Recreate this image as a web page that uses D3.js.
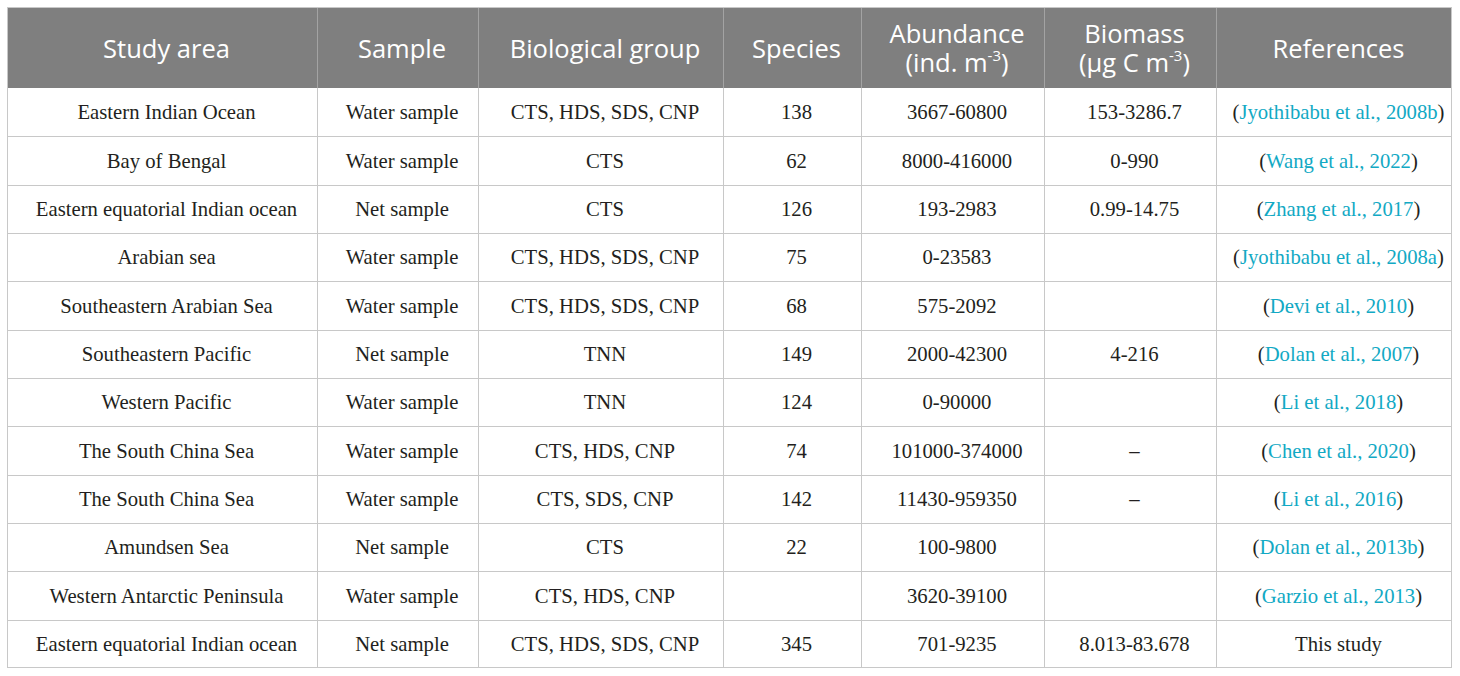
<!DOCTYPE html>
<html>
<head>
<meta charset="utf-8">
<script src="https://cdn.jsdelivr.net/npm/d3@7"></script>
<style>
  html, body { margin: 0; padding: 0; background: #fff; }
</style>
</head>
<body>
<div id="container"></div>
<script>
// table contents
let studyAreas = ['Eastern Indian Ocean', 'Bay of Bengal', 'Eastern equatorial Indian ocean', 'Arabian sea',
  'Southeastern Arabian Sea', 'Southeastern Pacific', 'Western Pacific', 'The South China Sea',
  'The South China Sea', 'Amundsen Sea', 'Western Antarctic Peninsula', 'Eastern equatorial Indian ocean']
let samples = ['Water sample', 'Water sample', 'Net sample', 'Water sample', 'Water sample', 'Net sample',
  'Water sample', 'Water sample', 'Water sample', 'Net sample', 'Water sample', 'Net sample']
let groups = ['CTS, HDS, SDS, CNP', 'CTS', 'CTS', 'CTS, HDS, SDS, CNP', 'CTS, HDS, SDS, CNP', 'TNN',
  'TNN', 'CTS, HDS, CNP', 'CTS, SDS, CNP', 'CTS', 'CTS, HDS, CNP', 'CTS, HDS, SDS, CNP']
let species = ['138', '62', '126', '75', '68', '149', '124', '74', '142', '22', '', '345']
let abundance = ['3667-60800', '8000-416000', '193-2983', '0-23583', '575-2092', '2000-42300', '0-90000',
  '101000-374000', '11430-959350', '100-9800', '3620-39100', '701-9235']
let biomass = ['153-3286.7', '0-990', '0.99-14.75', '', '', '4-216', '', '–', '–', '', '', '8.013-83.678']
let references = ['Jyothibabu et al., 2008b', 'Wang et al., 2022', 'Zhang et al., 2017', 'Jyothibabu et al., 2008a',
  'Devi et al., 2010', 'Dolan et al., 2007', 'Li et al., 2018', 'Chen et al., 2020', 'Li et al., 2016',
  'Dolan et al., 2013b', 'Garzio et al., 2013', 'This study']
let headers = [['Study area'], ['Sample'], ['Biological group'], ['Species'],
  ['Abundance', '(ind. m|-3|)'], ['Biomass', '(μg C m|-3|)'], ['References']]

let columns = [studyAreas, samples, groups, species, abundance, biomass, references]

let width = 1460,
  height = 676,
  edges = [7, 317, 478, 723, 861, 1044, 1216, 1452],
  tableTop = 7,
  headBottom = 88,
  tableBottom = 668,
  textShift = 4.5

let svg = d3.select('#container')
  .append('svg')
  .attr('width', width)
  .attr('height', height)

let scale_y = d3.scaleBand()
  .domain(d3.range(studyAreas.length))
  .range([headBottom, tableBottom])

let colMid = i => (edges[i] + edges[i + 1]) / 2 + textShift

// header background
svg.append('rect')
  .attr('x', edges[0]).attr('y', tableTop)
  .attr('width', edges[edges.length - 1] - edges[0])
  .attr('height', headBottom - tableTop)
  .attr('fill', '#7f7f7f')

// header column separators
svg.selectAll('.hsep')
  .data(edges.slice(1, -1)).enter().append('line')
  .attr('x1', d => d + 0.5).attr('x2', d => d + 0.5)
  .attr('y1', tableTop).attr('y2', headBottom)
  .attr('stroke', '#a3a3a3')
  .attr('stroke-width', 1)

// body grid
svg.selectAll('.rowline')
  .data(d3.range(1, studyAreas.length)).enter().append('line')
  .attr('x1', edges[0]).attr('x2', edges[edges.length - 1])
  .attr('y1', d => Math.round(scale_y(d)) + 0.5)
  .attr('y2', d => Math.round(scale_y(d)) + 0.5)
  .attr('stroke', '#c8c8c8')

svg.selectAll('.colline')
  .data(edges.slice(1, -1)).enter().append('line')
  .attr('x1', d => d + 0.5).attr('x2', d => d + 0.5)
  .attr('y1', headBottom).attr('y2', tableBottom)
  .attr('stroke', '#c8c8c8')

// outer border
svg.append('rect')
  .attr('x', edges[0] + 0.5).attr('y', tableTop + 0.5)
  .attr('width', edges[edges.length - 1] - edges[0] - 1)
  .attr('height', tableBottom - tableTop - 1)
  .attr('fill', 'none')
  .attr('stroke', '#c8c8c8')

// header text (two-line headers go into one text element)
let headG = svg.append('g')
  .attr('font-family', '"Open Sans", sans-serif')
  .attr('font-size', 25.5)
  .attr('fill', '#fff')
  .attr('text-anchor', 'middle')

let lineGap = 29

headers.forEach(function (lines, i) {
  let cy = (tableTop + headBottom) / 2 + 1
  let t = headG.append('text')
    .attr('x', colMid(i))
    .attr('y', cy - (lines.length - 1) / 2 * lineGap)
    .attr('dy', '0.36em')
  lines.forEach(function (line, j) {
    let parts = line.split('|')
    parts.forEach(function (p, k) {
      let s = t.append('tspan').text(p)
      if (k === 0 && j > 0) s.attr('x', colMid(i)).attr('dy', lineGap)
      if (k === 1) s.attr('font-size', 15).attr('dy', -11)
      if (k === 2) s.attr('dy', 11)
    })
  })
})

// body text
let bodyG = svg.append('g')
  .attr('font-family', '"Liberation Serif", "Times New Roman", serif')
  .attr('font-size', 20.7)
  .attr('fill', '#231f20')
  .attr('text-anchor', 'middle')

columns.forEach(function (col, i) {
  bodyG.selectAll('.c' + i)
    .data(col).enter().append('text')
    .attr('x', colMid(i))
    .attr('y', (d, r) => scale_y(r) + scale_y.bandwidth() / 2)
    .attr('dy', '0.34em')
    .each(function (d) {
      let t = d3.select(this)
      if (i === 6 && d !== 'This study') {
        t.append('tspan').text('(')
        t.append('tspan').attr('fill', '#12a9c4').text(d)
        t.append('tspan').text(')')
      } else {
        t.text(d)
      }
    })
})
</script>
</body>
</html>
